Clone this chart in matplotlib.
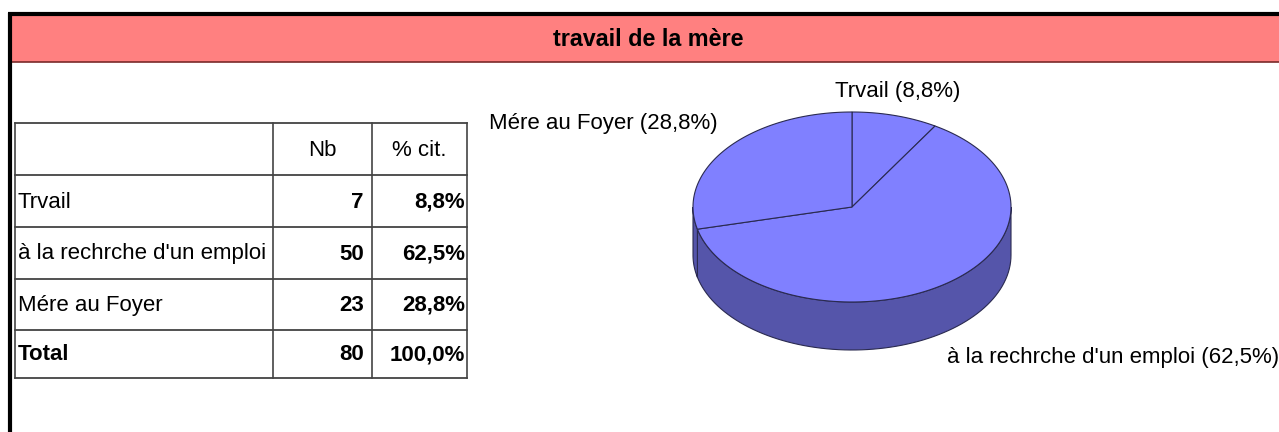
import numpy as np
import matplotlib
matplotlib.use("Agg")
import matplotlib.pyplot as plt
from matplotlib.patches import Polygon, Rectangle

plt.rcParams['font.family'] = ['Liberation Sans', 'DejaVu Sans']
FS = 16

title = "travail de la mère"
categories = ["Trvail", "à la rechrche d'un emploi", "Mére au Foyer"]
counts = [7, 50, 23]
percents = ["8,8%", "62,5%", "28,8%"]
total_label = "Total"
total_count = 80
total_pct = "100,0%"
col_headers = ["Nb", "% cit."]

fig = plt.figure(figsize=(12.79, 4.32), dpi=100)
ax = fig.add_axes([0, 0, 1, 1])
ax.set_xlim(0, 1279)
ax.set_ylim(432, 0)
ax.axis("off")

# frame + header band
ax.add_patch(Rectangle((10, 15), 1269, 47, facecolor="#FF8080", edgecolor="none"))
ax.plot([10, 1279], [62, 62], color="#7a2a2a", lw=1.2)
ax.plot([8, 1279], [14, 14], color="black", lw=3, solid_capstyle="butt")
ax.plot([9.5, 9.5], [13, 432], color="black", lw=3, solid_capstyle="butt")
ax.text(648, 40, title, ha="center", va="center", fontsize=16.8, fontweight="bold")

# table
xs = [15, 273, 372, 467]
ys = [123, 175, 227, 279, 330, 378]
for y in ys:
    ax.plot([xs[0], xs[-1]], [y, y], color="#333333", lw=1.2)
for x in xs:
    ax.plot([x, x], [ys[0], ys[-1]], color="#444444", lw=1.2)

def mid(i):
    return (ys[i] + ys[i + 1]) / 2 + 1

ax.text((xs[1] + xs[2]) / 2, mid(0), col_headers[0], ha="center", va="center", fontsize=FS)
ax.text((xs[2] + xs[3]) / 2, mid(0), col_headers[1], ha="center", va="center", fontsize=FS)
for i, (c, n, p) in enumerate(zip(categories, counts, percents)):
    ax.text(xs[0] + 3, mid(i + 1), c, ha="left", va="center", fontsize=FS)
    ax.text(xs[2] - 8, mid(i + 1), str(n), ha="right", va="center", fontsize=FS, fontweight="bold")
    ax.text(xs[3] - 2, mid(i + 1), p, ha="right", va="center", fontsize=FS, fontweight="bold")
ax.text(xs[0] + 3, mid(4), total_label, ha="left", va="center", fontsize=FS, fontweight="bold")
ax.text(xs[2] - 8, mid(4), str(total_count), ha="right", va="center", fontsize=FS, fontweight="bold")
ax.text(xs[3] - 2, mid(4), total_pct, ha="right", va="center", fontsize=FS, fontweight="bold")

# 3D pie
cx, cy, rx, ry, depth = 852, 207, 159, 95, 48
top_col, side_col, edge_col = "#8080FF", "#5555AA", "#2a2a50"

vals = np.array(counts, dtype=float)
spans = vals / vals.sum() * 360
starts = 90 - np.concatenate([[0], np.cumsum(spans)[:-1]])
ends = starts - spans

def pt(t, dy=0):
    r = np.radians(t)
    return cx + rx * np.cos(r), cy - ry * np.sin(r) + dy

# side walls (front half only)
for s, e in zip(starts, ends):
    lo, hi = e, s
    for flo, fhi in [(-540, -360), (-180, 0), (180, 360)]:
        a, b = max(lo, flo), min(hi, fhi)
        if b <= a:
            continue
        t = np.linspace(a, b, 80)
        top = [pt(v) for v in t]
        bot = [pt(v, depth) for v in t[::-1]]
        ax.add_patch(Polygon(top + bot, closed=True, facecolor=side_col,
                             edgecolor=edge_col, lw=0.8))

# top faces
for s, e in zip(starts, ends):
    t = np.linspace(s, e, 120)
    verts = [(cx, cy)] + [pt(v) for v in t]
    ax.add_patch(Polygon(verts, closed=True, facecolor=top_col,
                         edgecolor=edge_col, lw=0.8))

labels = [f"{c} ({p})" for c, p in zip(categories, percents)]
label_pos = [(835, 92, "left"), (947, 358, "left"), (718, 124, "right")]
for lab, (x, y, ha) in zip(labels, label_pos):
    ax.text(x, y, lab, ha=ha, va="center", fontsize=FS)

fig.savefig("out.png", dpi=100)
